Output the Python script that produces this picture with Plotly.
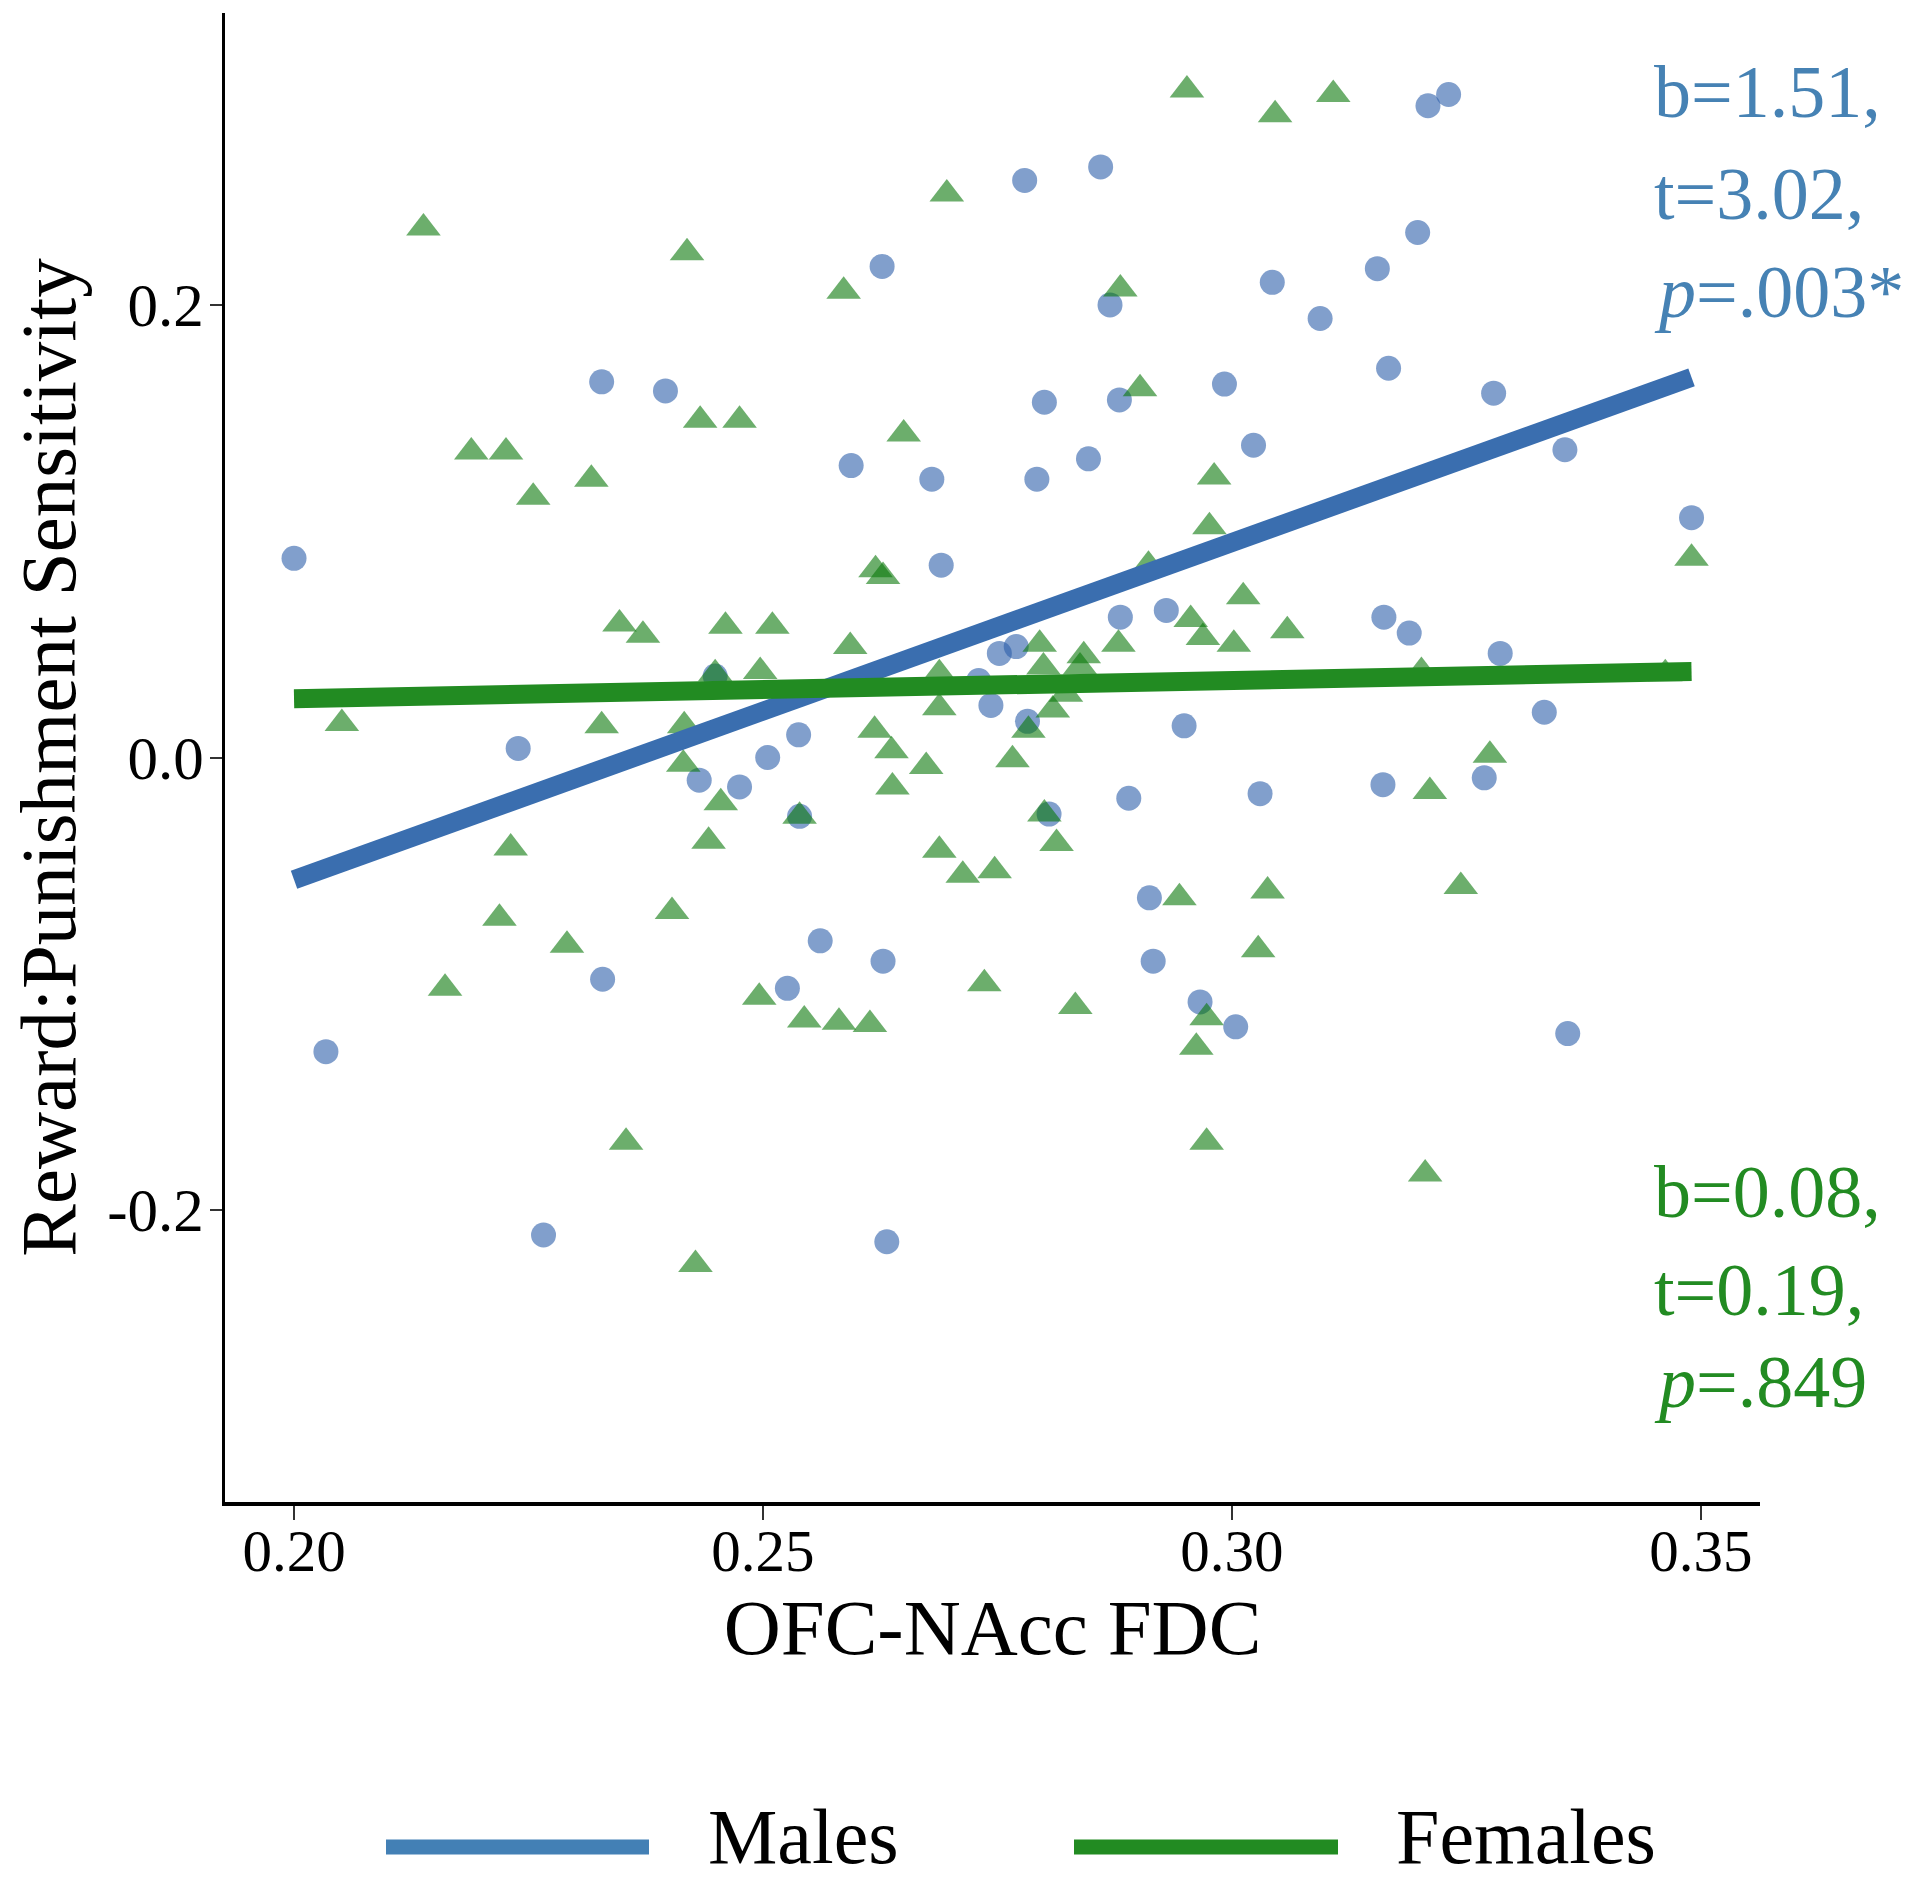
import plotly.graph_objects as go

# ---------------- data ----------------
males_x = [0.2000, 0.2034, 0.2239, 0.2266, 0.2328, 0.2329, 0.2396, 0.2432, 0.2449, 0.2475,
           0.2505, 0.2526, 0.2538, 0.2539, 0.2561, 0.2594, 0.2627, 0.2628, 0.2632, 0.2680,
           0.2690, 0.2730, 0.2743, 0.2752, 0.2770, 0.2779, 0.2782, 0.2792, 0.2800, 0.2805,
           0.2847, 0.2860, 0.2870, 0.2880, 0.2881, 0.2890, 0.2912, 0.2916, 0.2930, 0.2949,
           0.2966, 0.2992, 0.3004, 0.3023, 0.3030, 0.3043, 0.3094, 0.3155, 0.3161, 0.3162,
           0.3167, 0.3189, 0.3198, 0.3209, 0.3231, 0.3269, 0.3279, 0.3286, 0.3333, 0.3355,
           0.3358, 0.3490]
males_y = [0.088, -0.130, 0.004, -0.211, 0.166, -0.098, 0.162, -0.010, 0.036, -0.013,
           0.000, -0.102, 0.010, -0.026, -0.081, 0.129, 0.217, -0.090, -0.214, 0.123,
           0.085, 0.034, 0.023, 0.046, 0.049, 0.255, 0.016, 0.123, 0.157, -0.025,
           0.132, 0.261, 0.200, 0.158, 0.062, -0.018, -0.062, -0.090, 0.065, 0.014,
           -0.108, 0.165, -0.119, 0.138, -0.016, 0.210, 0.194, 0.216, -0.012, 0.062,
           0.172, 0.055, 0.232, 0.288, 0.293, -0.009, 0.161, 0.046, 0.020, 0.136,
           -0.122, 0.106]

females_x = [0.2051, 0.2138, 0.2161, 0.2189, 0.2226, 0.2219, 0.2231, 0.2255, 0.2291, 0.2317,
             0.2328, 0.2347, 0.2354, 0.2372, 0.2403, 0.2416, 0.2419, 0.2415, 0.2428, 0.2433,
             0.2442, 0.2449, 0.2455, 0.2460, 0.2475, 0.2497, 0.2496, 0.2510, 0.2539, 0.2544,
             0.2581, 0.2593, 0.2586, 0.2614, 0.2619, 0.2620, 0.2628, 0.2637, 0.2638, 0.2650,
             0.2674, 0.2688, 0.2688, 0.2688, 0.2696, 0.2713, 0.2736, 0.2747, 0.2766, 0.2783,
             0.2795, 0.2800, 0.2809, 0.2813, 0.2823, 0.2833, 0.2842, 0.2879, 0.2881, 0.2902,
             0.2911, 0.2944, 0.2952, 0.2956, 0.2962, 0.2969, 0.2973, 0.2973, 0.2976, 0.2981,
             0.3002, 0.3012, 0.3028, 0.3038, 0.3046, 0.3059, 0.3108, 0.3206, 0.3211, 0.3202,
             0.3244, 0.3275, 0.3462, 0.3490, 0.2799, 0.2838]
females_y = [0.015, 0.234, -0.102, 0.135, 0.135, -0.071, -0.040, 0.115, -0.083, 0.123,
             0.014, 0.059, -0.170, 0.054, -0.068, 0.014, 0.223, -0.003, -0.224, 0.149,
             -0.037, 0.037, -0.020, 0.058, 0.149, 0.038, -0.106, 0.058, -0.026, -0.116,
             -0.117, 0.049, 0.206, -0.118, 0.012, 0.083, 0.080, 0.003, -0.013, 0.143,
             -0.004, -0.041, 0.022, 0.037, 0.249, -0.052, -0.100, -0.050, -0.001, 0.012,
             0.050, -0.025, 0.021, -0.038, 0.028, -0.110, 0.045, 0.050, 0.207, 0.163,
             0.085, -0.062, 0.295, 0.061, -0.128, 0.053, -0.115, -0.170, 0.102, 0.124,
             0.050, 0.071, -0.085, -0.059, 0.284, 0.056, 0.293, -0.184, -0.015, 0.038,
             -0.057, 0.001, 0.037, 0.088, 0.040, 0.040]

# fitted regression lines (endpoints)
fit_x = [0.200, 0.349]
males_fit_y = [-0.054, 0.168]
females_fit_y = [0.026, 0.038]

x_ticks = [0.20, 0.25, 0.30, 0.35]
x_tick_labels = ["0.20", "0.25", "0.30", "0.35"]
y_ticks = [-0.2, 0.0, 0.2]
y_tick_labels = ["-0.2", "0.0", "0.2"]

males_stats = ["b=1.51,", "t=3.02,", "<i>p</i>=.003*"]
females_stats = ["b=0.08,", "t=0.19,", "<i>p</i>=.849"]
legend_labels = ["Males", "Females"]

# ---------------- style ----------------
FONT = "Liberation Serif, Times New Roman, serif"
BLUE_PT = "rgba(45,95,170,0.6)"
GREEN_PT = "rgba(10,120,10,0.6)"
BLUE_LINE = "#3A6EAF"
GREEN_LINE = "#228B22"
BLUE_TXT = "#4682B4"
GREEN_TXT = "#228B22"

W, H = 1920, 1881
L, R, T, B = 225, 160, 13, 379
pw, ph = W - L - R, H - T - B


def px_x(px):
    return (px - L) / pw


def px_y(py):
    return (H - B - py) / ph


fig = go.Figure()
fig.add_trace(go.Scatter(x=males_x, y=males_y, mode="markers", name="Males",
                         marker=dict(symbol="circle", size=25, color=BLUE_PT, line=dict(width=0)),
                         showlegend=False))
fig.add_trace(go.Scatter(x=females_x, y=females_y, mode="markers", name="Females",
                         marker=dict(symbol="triangle-up", size=30, color=GREEN_PT, line=dict(width=0)),
                         showlegend=False))
fig.add_trace(go.Scatter(x=fit_x, y=males_fit_y, mode="lines", name="Males fit",
                         line=dict(color=BLUE_LINE, width=19), showlegend=False))
fig.add_trace(go.Scatter(x=fit_x, y=females_fit_y, mode="lines", name="Females fit",
                         line=dict(color=GREEN_LINE, width=19), showlegend=False))

# statistics text, one line each (top of each line box, in pixels)
FS_STAT = 74
for lines, tops, col in [(males_stats, [49, 151, 249], BLUE_TXT),
                         (females_stats, [1149, 1247, 1339], GREEN_TXT)]:
    for txt, top in zip(lines, tops):
        fig.add_annotation(xref="paper", yref="paper", x=px_x(1652), y=px_y(top),
                           xanchor="left", yanchor="top", text=txt, align="left",
                           showarrow=False, font=dict(family=FONT, size=FS_STAT, color=col))

# manual legend at bottom
leg_line_y = px_y(1847)
leg_text_y = px_y(1836)
for (x0, x1, col, tx, lab) in [(386, 649, "#4380B5", 706, legend_labels[0]),
                               (1074, 1338, GREEN_LINE, 1394, legend_labels[1])]:
    fig.add_shape(type="line", xref="paper", yref="paper", x0=px_x(x0), x1=px_x(x1),
                  y0=leg_line_y, y1=leg_line_y, line=dict(color=col, width=15))
    fig.add_annotation(xref="paper", yref="paper", x=px_x(tx), y=leg_text_y, xanchor="left",
                       yanchor="middle", text=lab, showarrow=False,
                       font=dict(family=FONT, size=78, color="black"))

fig.update_layout(
    width=W, height=H,
    margin=dict(l=L, r=R, t=T, b=B),
    plot_bgcolor="white", paper_bgcolor="white",
    font=dict(family=FONT, color="black"),
    showlegend=False,
)
fig.update_xaxes(range=[0.19264, 0.3563], tickvals=x_ticks, ticktext=x_tick_labels,
                 showgrid=False, zeroline=False, showline=True, linecolor="black", linewidth=4,
                 ticks="outside", ticklen=14, tickwidth=2, tickcolor="#333333",
                 ticklabelstandoff=-20,
                 tickfont=dict(family=FONT, size=59, color="black"),
                 title=dict(text="OFC-NAcc FDC", font=dict(family=FONT, size=79, color="black"),
                            standoff=3))
fig.update_yaxes(range=[-0.329, 0.329], tickvals=y_ticks, ticktext=y_tick_labels,
                 showgrid=False, zeroline=False, showline=True, linecolor="black", linewidth=3,
                 ticks="outside", ticklen=12, tickwidth=2, tickcolor="#333333",
                 ticklabelstandoff=-6,
                 tickfont=dict(family=FONT, size=61, color="black"),
                 title=dict(text="Reward:Punishment Sensitivity",
                            font=dict(family=FONT, size=79, color="black"), standoff=6))

fig.write_html("out.html", config={"displayModeBar": False},
               post_script="document.body.style.margin='0px';")
